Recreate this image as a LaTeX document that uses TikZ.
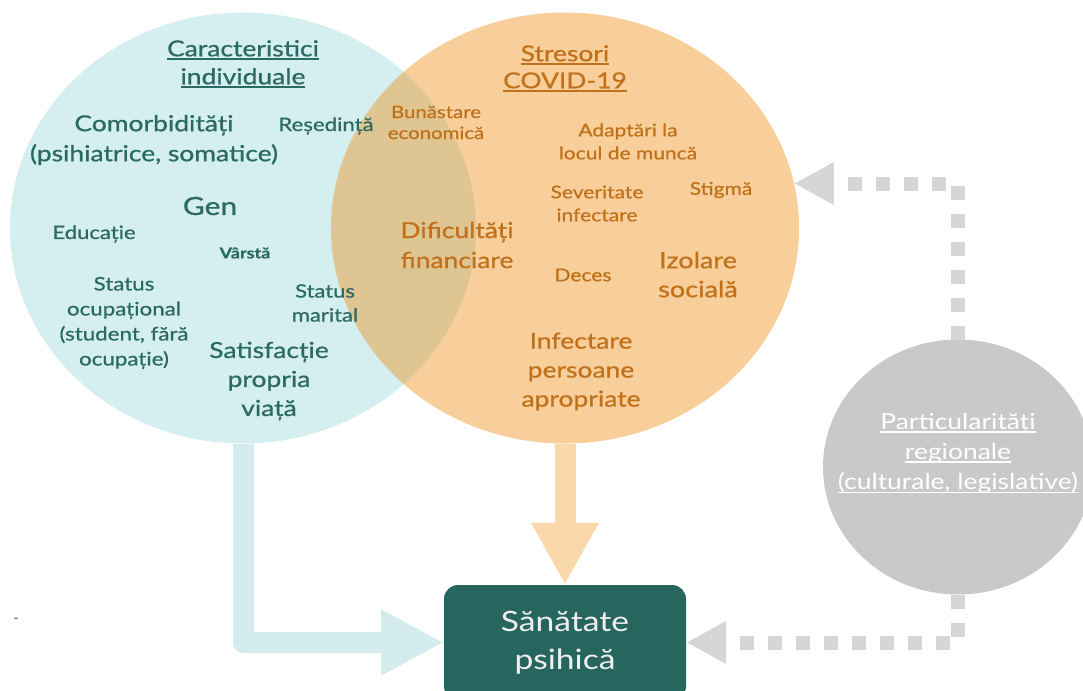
\documentclass[tikz,border=0pt]{standalone}
\usepackage{fontspec}
\setmainfont{Lato}[FakeStretch=1.2, FakeBold=0.8]
\newfontfamily\lightfont{Lato}[FakeStretch=1.2]
\usetikzlibrary{arrows.meta,shapes.geometric}
\definecolor{bluefill}{HTML}{D5EEF0}
\definecolor{orangebase}{RGB}{238,143,24}
\definecolor{orangearrow}{HTML}{F9D8AC}
\definecolor{bluearrow}{HTML}{D4ECEE}
\definecolor{graycirc}{HTML}{C8C9C8}
\definecolor{graydashc}{HTML}{D6D6D6}
\definecolor{boxc}{HTML}{27665F}
\definecolor{tealtext}{HTML}{2B6A64}
\definecolor{orangetext}{HTML}{C0711A}
\definecolor{boxtext}{HTML}{EFEFEF}
\newcommand{\myul}[1]{\setbox0\hbox{#1}\rlap{\rule[-3.5pt]{\wd0}{1.6pt}}\box0}
\newcommand{\myulthin}[1]{\setbox0\hbox{#1}\rlap{\rule[-3.5pt]{\wd0}{1.1pt}}\box0}
\tikzset{
  circ/.style={ellipse, inner sep=0pt, outer sep=0pt, draw=none},
  tt/.style={text=tealtext, align=center, inner sep=0pt},
  ot/.style={text=orangetext, align=center, inner sep=0pt},
  fbig/.style={font=\fontsize{22}{29}\selectfont},
  fsm/.style={font=\fontsize{17.5}{23}\selectfont},
  blockarrow/.style={line width=21pt, line join=round},
  graydash/.style={draw=graydashc, line width=14pt, dash pattern=on 14pt off 14pt,
    -{Triangle[width=40pt,length=40pt]}},
}
\begin{document}
\begin{tikzpicture}[x=1pt,y=-1pt]
\useasboundingbox (0,0) rectangle (1083,690);
\clip (0,0) rectangle (1083,690);
% circles
\node[circ, fill=bluefill, minimum width=466pt, minimum height=431pt] (indiv) at (243,228) {};
\node[circ, fill=orangebase, fill opacity=0.43, minimum width=468pt, minimum height=431pt] (covid) at (565,228) {};
\node[circ, fill=graycirc, minimum width=270pt, minimum height=255pt] (reg) at (958,467) {};
% box
\node[rectangle, rounded corners=14pt, fill=boxc, minimum width=242pt, minimum height=115pt,
  text=boxtext, align=center, font=\lightfont\fontsize{28}{38}\selectfont] (mh) at (565,642.5) {Sănătate\\psihică};
% arrows
\draw[blockarrow, draw=bluearrow, -{Triangle[width=62pt,length=63pt]}] (indiv.south) |- (mh.west);
\draw[blockarrow, draw=orangearrow, -{Triangle[width=63pt,length=62pt]}] (covid.south) -- (mh.north);
\draw[graydash] (reg.north) |- (covid.11);
\draw[graydash] (reg.south) |- (mh.east);
% individual texts
\node[tt, font=\fontsize{22}{28}\selectfont] (t1) at (243,64) {\myul{Caracteristici}\\\myul{individuale}};
\node[tt, font=\fontsize{22}{30}\selectfont] (t2) at (154,140) {Comorbidități\\(psihiatrice, somatice)};
\node[tt, font=\fontsize{18.5}{22}\selectfont] (t3) at (326,126) {Reședință};
\node[tt, font=\fontsize{25}{30}\selectfont] (t4) at (210,206) {Gen};
\node[tt, font=\fontsize{18.4}{22}\selectfont] (t5) at (94,234) {Educație};
\node[tt, font=\fontsize{15}{20}\selectfont\bfseries] (t6) at (245,253) {Vârstă};
\node[tt, font=\fontsize{18.6}{25}\selectfont] (t7) at (124,323) {Status\\ocupațional\\(student, fără\\ocupație)};
\node[tt, font=\fontsize{18.3}{24}\selectfont] (t8) at (325,303) {Status\\marital};
\node[tt, fbig] (t9) at (269,381) {Satisfacție\\propria\\viață};
% covid texts
\node[ot, font=\fontsize{22}{27}\selectfont] (c1) at (565,68.5) {\myul{Stresori}\\\myul{COVID-19}};
\node[ot, font=\fontsize{17}{21}\selectfont] (c2) at (436,122.5) {Bunăstare\\economică};
\node[ot, fsm] (c3) at (628,141.5) {Adaptări la\\locul de muncă};
\node[ot, fsm] (c4) at (597,203.5) {Severitate\\infectare};
\node[ot, fsm] (c5) at (721,190) {Stigmă};
\node[ot, font=\fontsize{22}{30}\selectfont] (c6) at (457,245) {Dificultăți\\financiare};
\node[ot, fsm] (c7) at (583,275) {Deces};
\node[ot, font=\fontsize{22.5}{29}\selectfont] (c8) at (698,274.5) {Izolare\\socială};
\node[ot, fbig] (c9) at (581,371.5) {Infectare\\persoane\\apropriate};
% regional
\node[align=center, inner sep=0pt, text=white, font=\lightfont\fontsize{22}{30}\selectfont] (rt) at (958,453)
  {\myulthin{Particularități}\\\myulthin{regionale}\\\myulthin{(culturale, legislative)}};
% small mark
\node[inner sep=0pt, text=gray, font=\fontsize{12}{12}\selectfont] (mark) at (16,620) {-};
\end{tikzpicture}
\end{document}
